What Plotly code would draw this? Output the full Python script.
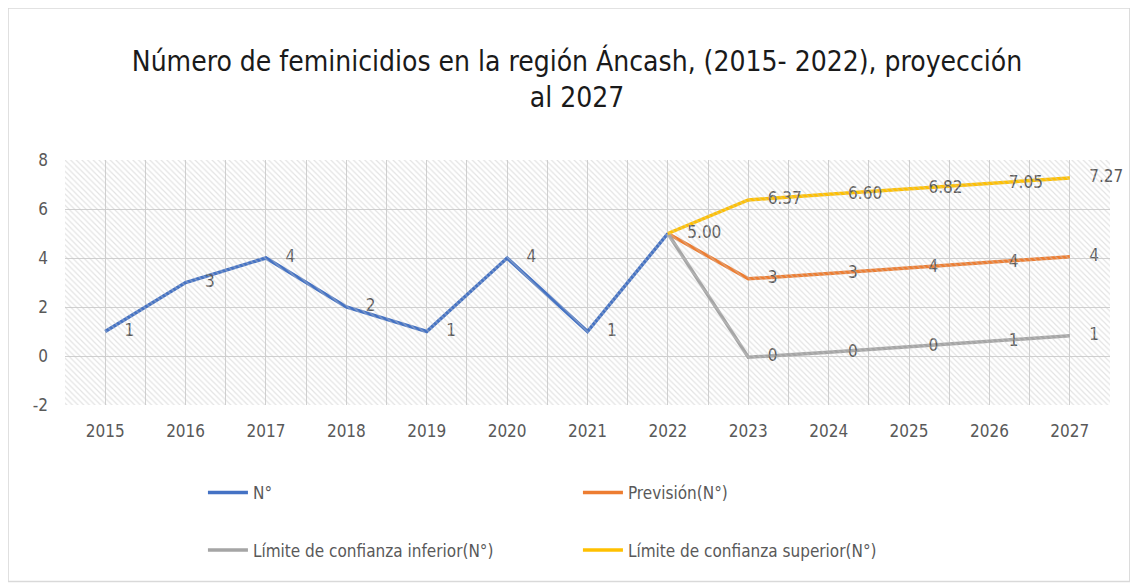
import plotly.graph_objects as pgo

YEARS = list(range(2015, 2028))
OBSERVED = [1, 3, 4, 2, 1, 4, 1, 5]
FORECAST_YEARS = [2022, 2023, 2024, 2025, 2026, 2027]
FORECAST = [5, 3.15, 3.37, 3.60, 3.82, 4.05]
LOWER = [5, -0.05, 0.15, 0.38, 0.60, 0.83]
UPPER = [5, 6.37, 6.60, 6.82, 7.05, 7.27]
Y_TICKS = [-2, 0, 2, 4, 6, 8]
Y_TICK_LABELS = ['-2', '0', '2', '4', '6', '8']

TITLE = 'Número de feminicidios en la región Áncash, (2015- 2022), proyección<br>al 2027'
FONT = 'DejaVu Sans Condensed, Lato, sans-serif'
GREY = '#595959'
PAD = '    '


def labels(values, fmt, skip_first=False):
    out = []
    for i, v in enumerate(values):
        if skip_first and i == 0:
            out.append('')
        elif fmt == 'int':
            out.append(PAD + str(round(v)))
        else:
            out.append(PAD + f'{v:.2f}')
    return out


fig = pgo.Figure()

# hatched plot background (hidden axes 0..1)
fig.add_trace(pgo.Scatter(
    x=[0, 1, 1, 0, 0], y=[0, 0, 1, 1, 0], xaxis='x2', yaxis='y2',
    mode='lines', line=dict(width=0), fill='toself',
    fillcolor='rgba(0,0,0,0)',
    fillpattern=dict(shape='\\', fgcolor='#c8c8c8', bgcolor='rgba(0,0,0,0)',
                     size=4, solidity=0.3),
    hoverinfo='skip', showlegend=False,
))

blue_text = [PAD + str(v) for v in OBSERVED[:-1]] + ['']
series = [
    ('N°', YEARS[:len(OBSERVED)], OBSERVED, '#4472C4', blue_text, 'legend'),
    ('Previsión(N°)', FORECAST_YEARS, FORECAST, '#ED7D31',
     labels(FORECAST, 'int', True), 'legend'),
    ('Límite de confianza inferior(N°)', FORECAST_YEARS, LOWER, '#A5A5A5',
     labels(LOWER, 'int', True), 'legend2'),
    ('Límite de confianza superior(N°)', FORECAST_YEARS, UPPER, '#FFC000',
     labels(UPPER, 'dec'), 'legend2'),
]
for name, xs, ys, color, text, leg in series:
    fig.add_trace(pgo.Scatter(
        x=xs, y=ys, name=name, mode='lines+text', text=text,
        textposition='middle right', cliponaxis=False,
        textfont=dict(family=FONT, size=17, color=GREY),
        line=dict(color=color, width=3.5), legend=leg,
    ))

fig.update_layout(
    width=1138, height=585,
    margin=dict(l=57, r=36, t=152, b=188),
    paper_bgcolor='white', plot_bgcolor='white',
    font=dict(family=FONT, color=GREY, size=17),
    title=dict(text=TITLE, x=0.5, xanchor='center', y=0.893, yanchor='top',
               font=dict(family=FONT, size=28, color='#1a1a1a')),
    xaxis=dict(range=[2014.5, 2027.5], tickvals=YEARS, showline=False,
               zeroline=False, showgrid=True, gridcolor='#d0d0d0',
               ticks='', ticklabelstandoff=14,
               minor=dict(tick0=2014.5, dtick=1, showgrid=True,
                          gridcolor='#d0d0d0')),
    yaxis=dict(range=[-2, 8], tickvals=Y_TICKS, ticktext=Y_TICK_LABELS,
               showgrid=True, gridcolor='#d0d0d0',
               zeroline=False, showline=False, ticks='', ticklabelstandoff=16),
    xaxis2=dict(range=[0, 1], overlaying='x', visible=False),
    yaxis2=dict(range=[0, 1], overlaying='y', visible=False),
    legend=dict(orientation='h', x=0.132, y=-0.285, xanchor='left',
                yanchor='top', entrywidth=320, font=dict(size=17, color=GREY),
                bgcolor='rgba(0,0,0,0)', itemwidth=40),
    legend2=dict(orientation='h', x=0.132, y=-0.52, xanchor='left',
                 yanchor='top', entrywidth=320, font=dict(size=17, color=GREY),
                 bgcolor='rgba(0,0,0,0)', itemwidth=40),
    shapes=[dict(type='rect', xref='paper', yref='paper',
                 x0=-0.0545, x1=1.019, y0=-0.72, y1=1.62,
                 line=dict(color='#d9d9d9', width=1.5), layer='below')],
)

fig.write_html('out.html')
